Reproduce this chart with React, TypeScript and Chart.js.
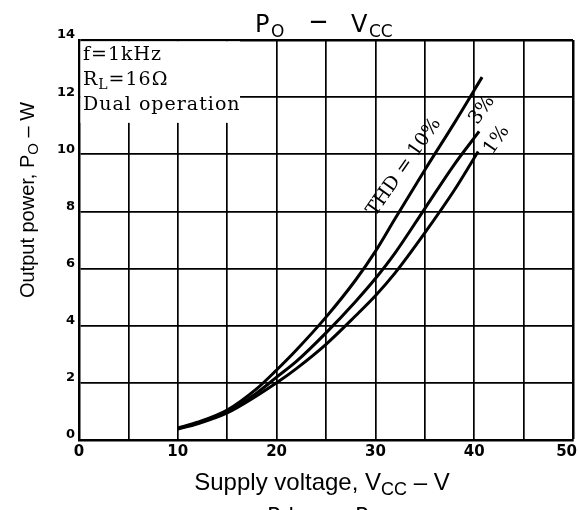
import React, { useEffect, useRef } from 'react';
import { Chart, registerables } from 'chart.js';

Chart.register(...registerables);

// ---- Data ----
const vccThd10 = [10, 12, 15, 18, 20, 22, 25, 28, 30, 32, 35, 38, 40.8];
const poThd10 = [0.42, 0.62, 1.05, 1.8, 2.45, 3.15, 4.3, 5.6, 6.6, 7.75, 9.45, 11.1, 12.7];

const vccThd3 = [10, 12, 15, 18, 20, 22, 25, 28, 30, 32, 35, 38, 40.5];
const poThd3 = [0.4, 0.6, 1.0, 1.65, 2.2, 2.75, 3.75, 4.85, 5.65, 6.55, 8.1, 9.65, 10.8];

const vccThd1 = [10, 12, 15, 18, 20, 22, 25, 28, 30, 32, 35, 38, 40.4];
const poThd1 = [0.38, 0.57, 0.95, 1.55, 2.0, 2.5, 3.35, 4.35, 5.05, 5.85, 7.25, 8.75, 10.1];

const xLabelValues = [0, 10, 20, 30, 40, 50];
const yLabelValues = [0, 2, 4, 6, 8, 10, 12, 14];

const curveLabels = ['THD = 10%', '3%', '1%'];
const curveLabelX = [32.9, 40.8, 42.3];
const curveLabelY = [9.55, 11.55, 10.5];

const SANS = '"Liberation Sans", Arial, sans-serif';
const DJ = '"DejaVu Sans", sans-serif';
const SERIF = '"DejaVu Serif", serif';

type Seg = { t: string; sub?: boolean };

function richWidth(ctx: CanvasRenderingContext2D, segs: Seg[], font: string, subFont: string) {
  let w = 0;
  for (const s of segs) {
    ctx.font = s.sub ? subFont : font;
    w += ctx.measureText(s.t).width;
  }
  return w;
}

function drawRich(ctx: CanvasRenderingContext2D, segs: Seg[], x: number, y: number, font: string, subFont: string, subDy: number) {
  ctx.textAlign = 'left';
  ctx.textBaseline = 'alphabetic';
  let cx = x;
  for (const s of segs) {
    ctx.font = s.sub ? subFont : font;
    ctx.fillText(s.t, cx, s.sub ? y + subDy : y);
    cx += ctx.measureText(s.t).width;
  }
}

const decor = {
  id: 'decor',
  beforeDatasetsDraw(chart: any) {
    const { ctx, chartArea: a, scales } = chart;
    const xs = scales.x, ys = scales.y;
    ctx.save();
    // white info box over the grid
    const bx = xs.getPixelForValue(16.3);
    const by = ys.getPixelForValue(11.1);
    ctx.fillStyle = '#fff';
    ctx.fillRect(a.left + 1.5, a.top + 1.3, bx - a.left - 1.5, by - a.top - 1.3);
    ctx.fillStyle = '#000';
    (ctx as any).letterSpacing = '1px';
    const f = `19px ${SERIF}`;
    const sf = `14px ${SERIF}`;
    drawRich(ctx, [{ t: 'f=1kHz' }], a.left + 4, 60, f, sf, 4);
    drawRich(ctx, [{ t: 'R' }, { t: 'L', sub: true }, { t: '=16Ω' }], a.left + 4, 85, f, sf, 4);
    drawRich(ctx, [{ t: 'Dual operation' }], a.left + 4, 110, f, sf, 4);
    (ctx as any).letterSpacing = '0px';
    ctx.restore();
  },
  afterDraw(chart: any) {
    const { ctx, chartArea: a, scales } = chart;
    const xs = scales.x, ys = scales.y;
    const cx = (a.left + a.right) / 2;
    ctx.save();
    ctx.fillStyle = '#000';
    ctx.textAlign = 'left';
    ctx.textBaseline = 'alphabetic';

    // x tick labels (kept inside the canvas)
    ctx.font = `bold 15px ${DJ}`;
    for (const v of xLabelValues) {
      const s = String(v);
      const w = ctx.measureText(s).width;
      let px = xs.getPixelForValue(v);
      px = Math.min(px, chart.width - 2 - w / 2);
      ctx.textAlign = 'center';
      ctx.fillText(s, px, 456);
    }
    ctx.textAlign = 'left';

    // Chart title: P_O — V_CC
    ctx.font = `24px ${DJ}`;
    ctx.fillText('P', cx - 71, 32);
    ctx.font = `17px ${DJ}`;
    ctx.fillText('O', cx - 55, 37);
    ctx.font = `bold 17px ${DJ}`;
    ctx.fillText('—', cx - 16, 27);
    ctx.font = `24px ${DJ}`;
    ctx.fillText('V', cx + 25, 32);
    ctx.font = `17px ${DJ}`;
    ctx.fillText('CC', cx + 43, 37);

    // x title
    const xSegs: Seg[] = [{ t: 'Supply voltage, ' }, { t: 'V' }, { t: 'CC', sub: true }, { t: ' – V' }];
    const xf = `24px ${SANS}`, xsf = `18px ${SANS}`;
    const xw = richWidth(ctx, xSegs, xf, xsf);
    drawRich(ctx, xSegs, cx - 4 - xw / 2, 490, xf, xsf, 5);

    // y title
    const ySegs: Seg[] = [{ t: 'Output power, ' }, { t: 'P' }, { t: 'O', sub: true }, { t: ' – W' }];
    const yf = `20px ${SANS}`, ysf = `15px ${SANS}`;
    const yw = richWidth(ctx, ySegs, yf, ysf);
    ctx.save();
    ctx.translate(27, 200);
    ctx.rotate(-Math.PI / 2);
    drawRich(ctx, ySegs, -yw / 2, 7, yf, ysf, 4);
    ctx.restore();

    // next chart title (cut off at bottom edge): Pd — P_O
    ctx.font = `22px ${DJ}`;
    ctx.fillText('Pd', cx - 59, 523);
    ctx.font = `bold 17px ${DJ}`;
    ctx.fillText('—', cx - 4, 517);
    ctx.font = `22px ${DJ}`;
    ctx.fillText('P', cx + 29, 523);
    ctx.font = `16px ${DJ}`;
    ctx.fillText('O', cx + 43, 528);

    // curve labels
    for (let i = 0; i < curveLabels.length; i++) {
      ctx.save();
      ctx.translate(xs.getPixelForValue(curveLabelX[i]), ys.getPixelForValue(curveLabelY[i]));
      ctx.rotate((-55 * Math.PI) / 180);
      ctx.font = `19px ${SERIF}`;
      ctx.textAlign = 'center';
      ctx.textBaseline = 'middle';
      ctx.fillText(curveLabels[i], 0, 0);
      ctx.restore();
    }
    ctx.restore();
  },
};

function pts(xv: number[], yv: number[]) {
  return xv.map((v, i) => ({ x: v, y: yv[i] }));
}

export default function App() {
  const ref = useRef<HTMLCanvasElement>(null);
  useEffect(() => {
    document.body.style.margin = '0';
    const lineDs = (label: string, data: { x: number; y: number }[]) => ({
      label,
      data,
      borderColor: '#000',
      backgroundColor: '#000',
      borderWidth: 3,
      pointRadius: 0,
      cubicInterpolationMode: 'monotone' as const,
      fill: false,
    });
    const chart = new Chart(ref.current!, {
      type: 'line',
      data: {
        datasets: [
          lineDs('THD=10%', pts(vccThd10, poThd10)),
          lineDs('THD=3%', pts(vccThd3, poThd3)),
          lineDs('THD=1%', pts(vccThd1, poThd1)),
        ],
      },
      options: {
        animation: false,
        responsive: false,
        events: [],
        layout: { padding: { top: 40, right: 6, left: 0, bottom: 0 } },
        plugins: { legend: { display: false }, title: { display: false }, tooltip: { enabled: false } },
        scales: {
          x: {
            type: 'linear',
            min: 0,
            max: 50,
            afterFit(s: any) {
              s.height = 70;
              s.paddingLeft = 0;
              s.paddingRight = 0;
            },
            ticks: {
              stepSize: 5,
              autoSkip: false,
              maxRotation: 0,
              display: false,
            },
            grid: {
              color: '#000',
              lineWidth: (c: any) => (c.tick && c.tick.value === 50 ? 2.5 : 1.7),
              drawTicks: false,
            },
            border: { color: '#000', width: 2.5 },
          },
          y: {
            type: 'linear',
            min: 0,
            max: 14,
            afterFit(s: any) {
              s.width = 79;
              s.paddingTop = 0;
              s.paddingBottom = 0;
            },
            ticks: {
              stepSize: 2,
              autoSkip: false,
              padding: 4,
              labelOffset: -5,
              color: '#000',
              font: { family: '"DejaVu Sans", sans-serif', weight: 'bold', size: 13 },
              callback: (v: any) => (yLabelValues.includes(Number(v)) ? String(v) : ''),
            },
            grid: {
              color: '#000',
              lineWidth: (c: any) => (c.tick && c.tick.value === 14 ? 2.5 : 1.7),
              drawTicks: false,
            },
            border: { color: '#000', width: 2.5 },
          },
        },
      } as any,
      plugins: [decor],
    });
    return () => chart.destroy();
  }, []);
  return (
    <div style={{ position: 'absolute', left: 0, top: 0, width: 579, height: 510, background: '#fff' }}>
      <canvas ref={ref} width={579} height={510} style={{ display: 'block' }} />
    </div>
  );
}
